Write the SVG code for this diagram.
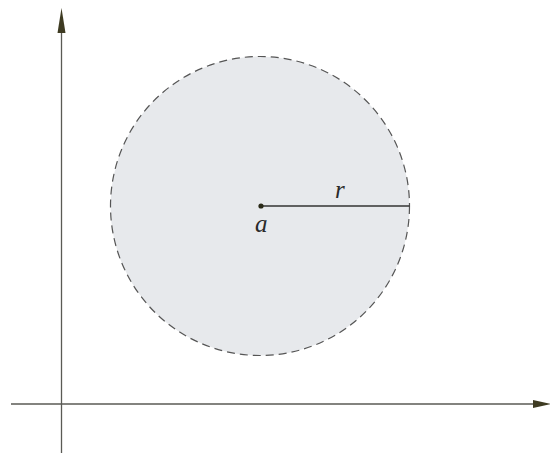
<svg xmlns="http://www.w3.org/2000/svg" width="550" height="453" viewBox="0 0 550 453">
<style>
.axis{stroke:#5a5a55;stroke-width:1.3;fill:none}
.head{fill:#3e3b22}
.lbl{font-family:"Liberation Serif",serif;font-style:italic;font-size:25px;fill:#2a2a2a}
</style>
<rect width="550" height="453" fill="#ffffff"/>
<g id="connectors">
<line class="axis" x1="61.5" y1="30" x2="61.5" y2="453"/>
<polygon class="head" points="61.5,8 57.5,33 65.5,33"/>
<line class="axis" x1="11" y1="404" x2="535" y2="404"/>
<polygon class="head" points="551,404 533,400 533,408"/>
</g>
<g id="disk">
<circle cx="260" cy="206" r="149.5" fill="#e7e9ec" stroke="#555" stroke-width="1.2" stroke-dasharray="8,5"/>
</g>
<g id="radius">
<line x1="261" y1="206" x2="409.5" y2="206" stroke="#333" stroke-width="1.3"/>
<text class="lbl" x="335" y="198">r</text>
</g>
<g id="center">
<circle cx="261" cy="206" r="2.6" fill="#2a2a18"/>
<text class="lbl" x="255" y="232">a</text>
</g>
</svg>
